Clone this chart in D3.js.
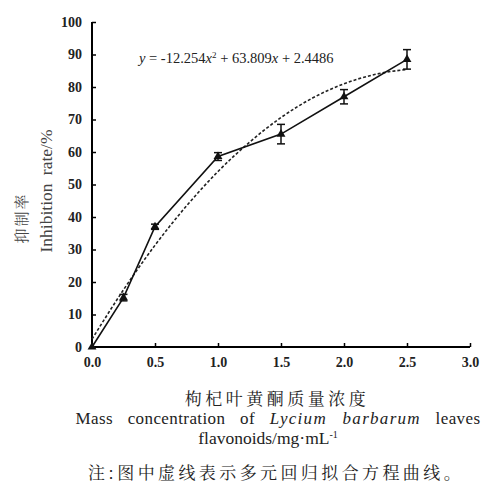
<!DOCTYPE html>
<html>
<head>
<meta charset="utf-8">
<script src="https://cdn.jsdelivr.net/npm/d3@7"></script>
<style>
  body { margin: 0; background: #fff; }
</style>
</head>
<body>
<div id="container"></div>
<script>
/* DATA */
const conc = [0, 0.25, 0.5, 1.0, 1.5, 2.0, 2.5];
const inhibition = [0, 15.2, 37.0, 58.6, 65.5, 77.0, 88.5];
const errs = [0, 1.0, 0.8, 1.2, 3.0, 2.2, 3.0];
// dashed fitted curve
const fitX = [0, 0.25, 0.5, 0.75, 1.0, 1.25, 1.5, 1.75, 2.0, 2.25, 2.5];
const fitY = [2.4, 17.6, 31.3, 43.4, 54.0, 63.0, 70.6, 76.6, 81.0, 83.9, 85.4];
const xTicks = [0, 0.5, 1.0, 1.5, 2.0, 2.5, 3.0];
const yTicks = [0, 10, 20, 30, 40, 50, 60, 70, 80, 90, 100];

const width = 487, height = 501;
const SERIF = '"Liberation Serif", serif';
const CJK = '"Noto Serif CJK SC", "Noto Sans CJK SC", serif';

const svg = d3.select("#container").append("svg")
  .attr("width", width)
  .attr("height", height);

/* SCALES */
const xScale = d3.scaleLinear().domain([0, 3]).range([92, 470]);
const yScale = d3.scaleLinear().domain([0, 100]).range([347, 22]);

/* AXES */
const xAxis = d3.axisBottom(xScale).tickValues(xTicks).tickSize(-4)
  .tickFormat(d3.format(".1f")).tickPadding(9);
const gx = svg.append("g")
  .attr("transform", `translate(0, ${yScale(0)})`)
  .call(xAxis);
gx.select(".domain").attr("d", `M${xScale(0)},0H${xScale(3)}`).attr("stroke-width", 2);
gx.selectAll(".tick line").attr("stroke-width", 1.5);
gx.selectAll("text").style("font-family", SERIF).style("font-size", "14px")
  .style("font-weight", "bold").attr("fill", "#222").attr("dy", "0.8em");

const yAxis = d3.axisLeft(yScale).tickValues(yTicks).tickSize(-4).tickPadding(10);
const gy = svg.append("g")
  .attr("transform", `translate(${xScale(0)}, 0)`)
  .call(yAxis);
gy.select(".domain").attr("d", `M0,${yScale(0)}V${yScale(100)}`).attr("stroke-width", 2);
gy.selectAll(".tick line").attr("stroke-width", 1.5);
gy.selectAll("text").style("font-family", SERIF).style("font-size", "14px")
  .style("font-weight", "bold").attr("fill", "#222");

/* FITTED CURVE */
const fitData = fitX.map((x, i) => ({x, y: fitY[i]}));
svg.append("path")
  .datum(fitData)
  .attr("fill", "none")
  .attr("stroke", "#222")
  .attr("stroke-width", 1.6)
  .attr("stroke-dasharray", "3,2")
  .attr("d", d3.line().x(d => xScale(d.x)).y(d => yScale(d.y)).curve(d3.curveMonotoneX));

/* MEASURED LINE */
const pts = conc.map((x, i) => ({x, y: inhibition[i], e: errs[i]}));
svg.append("path")
  .datum(pts)
  .attr("fill", "none")
  .attr("stroke", "#111")
  .attr("stroke-width", 1.6)
  .attr("d", d3.line().x(d => xScale(d.x)).y(d => yScale(d.y)));

/* ERROR BARS */
const eb = svg.selectAll(".err").data(pts.filter(d => d.e > 0)).join("g").attr("class", "err")
  .attr("stroke", "#111").attr("stroke-width", 1.5);
eb.append("line")
  .attr("x1", d => xScale(d.x)).attr("x2", d => xScale(d.x))
  .attr("y1", d => yScale(d.y + d.e)).attr("y2", d => yScale(d.y - d.e));
eb.append("line")
  .attr("x1", d => xScale(d.x) - 4).attr("x2", d => xScale(d.x) + 4)
  .attr("y1", d => yScale(d.y + d.e)).attr("y2", d => yScale(d.y + d.e));
eb.append("line")
  .attr("x1", d => xScale(d.x) - 4).attr("x2", d => xScale(d.x) + 4)
  .attr("y1", d => yScale(d.y - d.e)).attr("y2", d => yScale(d.y - d.e));

/* MARKERS */
svg.selectAll(".mark").data(pts).join("path").attr("class", "mark")
  .attr("transform", d => `translate(${xScale(d.x)}, ${yScale(d.y)})`)
  .attr("d", d3.symbol(d3.symbolTriangle, 34))
  .attr("fill", "#111");

/* EQUATION */
const eq = svg.append("text").attr("x", 139).attr("y", 63)
  .attr("fill", "#222").style("font-family", SERIF).style("font-size", "14.5px");
eq.append("tspan").style("font-style", "italic").text("y");
eq.append("tspan").text(" = -12.254");
eq.append("tspan").style("font-style", "italic").text("x");
eq.append("tspan").attr("dy", -5).style("font-size", "9px").text("2");
eq.append("tspan").attr("dy", 5).text(" + 63.809");
eq.append("tspan").style("font-style", "italic").text("x");
eq.append("tspan").text(" + 2.4486");

/* Y TITLE */
svg.append("text")
  .style("font-family", CJK)
  .attr("fill", "#444")
  .attr("transform", "translate(27, 218) rotate(-90)")
  .attr("text-anchor", "middle")
  .style("font-size", "15px")
  .style("letter-spacing", "2px")
  .text("抑制率");
svg.append("text")
  .style("font-family", SERIF)
  .attr("fill", "#444")
  .attr("transform", "translate(52, 191) rotate(-90)")
  .attr("text-anchor", "middle")
  .style("font-size", "17.5px")
  .style("word-spacing", "4px")
  .text("Inhibition rate/%");

/* X TITLE */
svg.append("text")
  .style("font-family", CJK)
  .attr("fill", "#222")
  .attr("x", 277).attr("y", 405)
  .attr("text-anchor", "middle")
  .style("font-size", "17px")
  .style("letter-spacing", "3.5px")
  .text("枸杞叶黄酮质量浓度");
const t2 = svg.append("text")
  .style("font-family", SERIF)
  .attr("fill", "#222")
  .attr("x", 278).attr("y", 424)
  .attr("text-anchor", "middle")
  .style("font-size", "17px")
  .style("letter-spacing", "0.4px")
  .style("word-spacing", "10px");
t2.append("tspan").text("Mass concentration of ");
t2.append("tspan").style("font-style", "italic").style("letter-spacing", "1.3px").text("Lycium barbarum");
t2.append("tspan").text(" leaves");
const t3 = svg.append("text")
  .style("font-family", SERIF)
  .attr("fill", "#222")
  .attr("x", 268).attr("y", 444)
  .attr("text-anchor", "middle")
  .style("font-size", "17.5px");
t3.append("tspan").text("flavonoids/mg·mL");
t3.append("tspan").attr("dy", -6).style("font-size", "10px").text("-1");

/* NOTE */
svg.append("text")
  .style("font-family", CJK)
  .attr("fill", "#222")
  .attr("x", 276).attr("y", 479)
  .attr("text-anchor", "middle")
  .style("font-size", "17px")
  .style("letter-spacing", "3.4px")
  .text("注:图中虚线表示多元回归拟合方程曲线。");
</script>
</body>
</html>
